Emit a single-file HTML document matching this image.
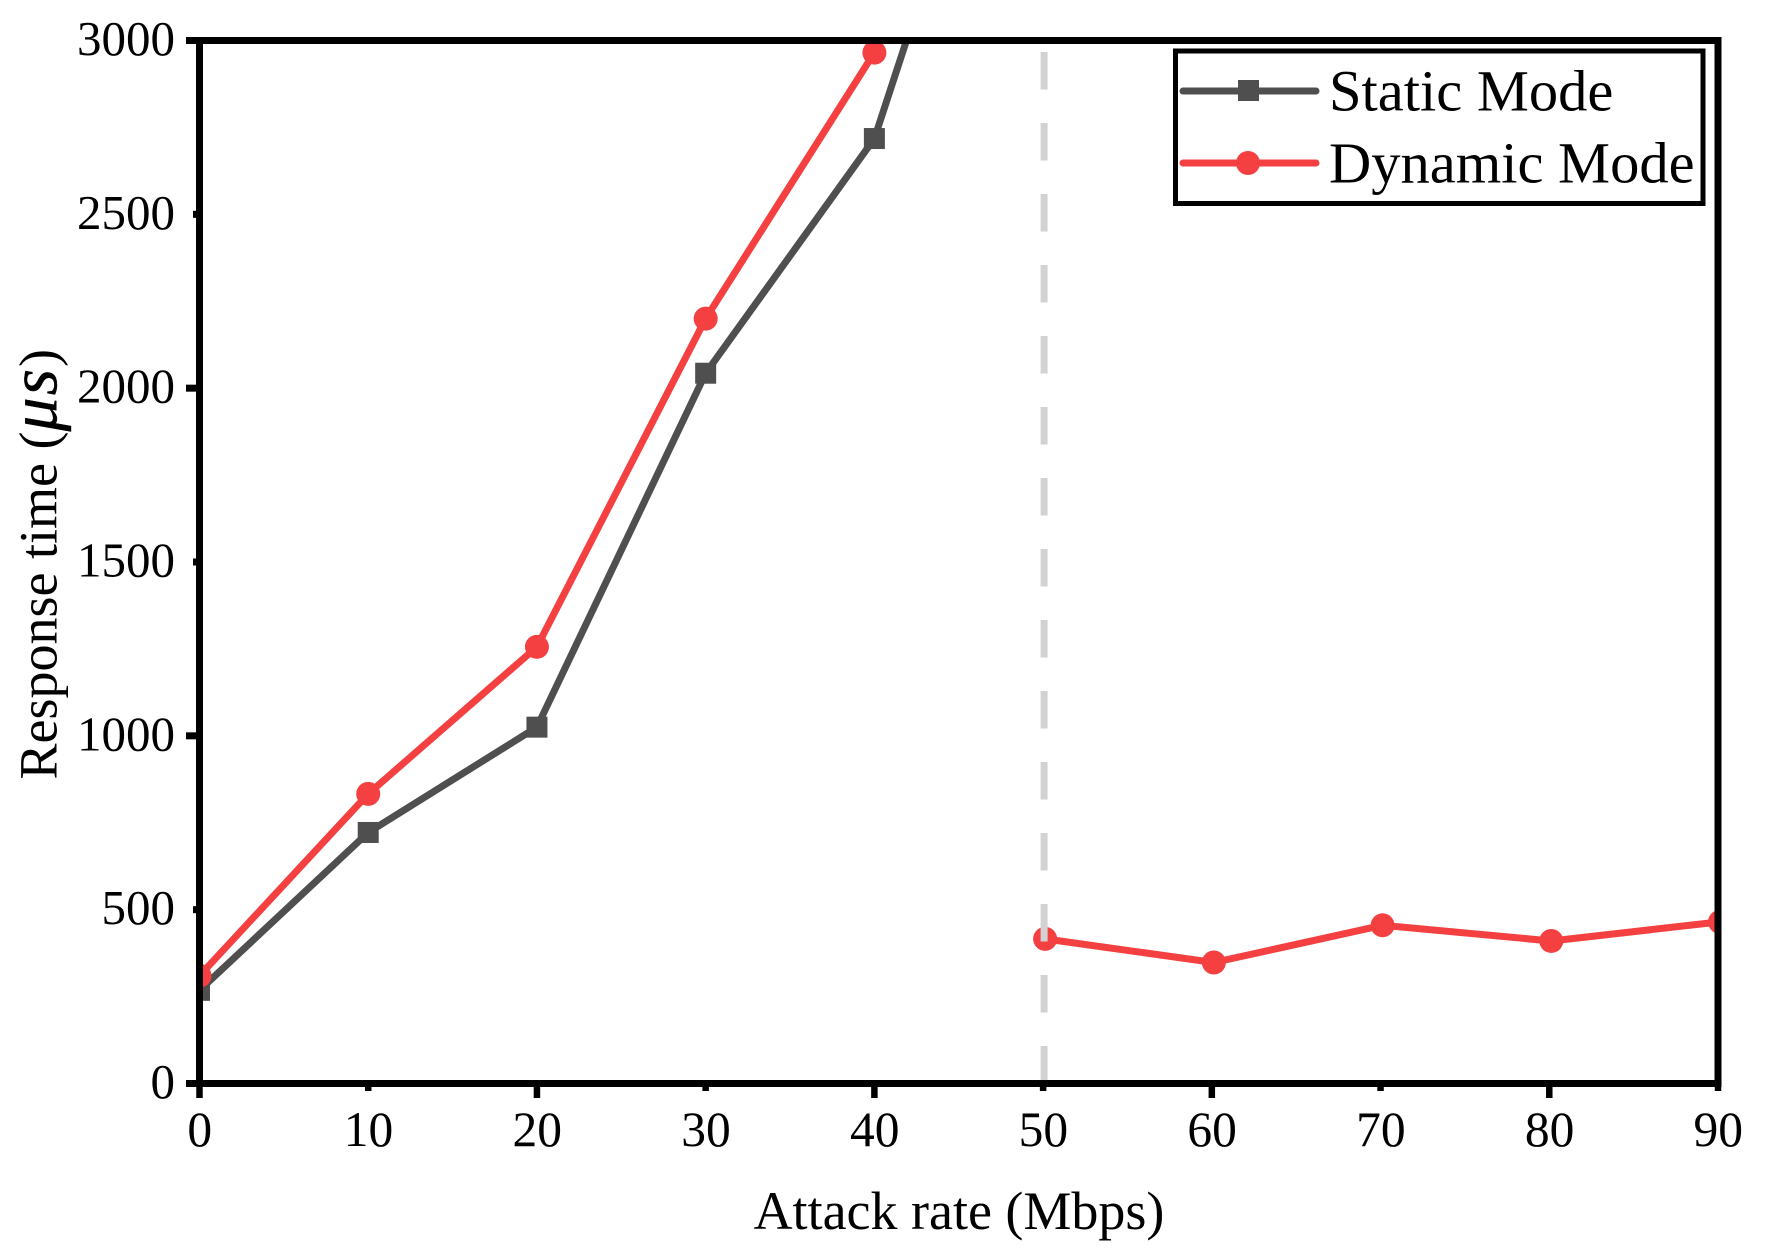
<!DOCTYPE html>
<html lang="en">
<head>
<meta charset="utf-8">
<title>Response time vs attack rate</title>
<style>
  html, body { margin: 0; padding: 0; background: #fff; width: 1774px; height: 1251px; overflow: hidden; }
  svg { display: block; }
  text { font-family: "Liberation Serif", "Noto Serif CJK SC", serif; fill: #000; }
</style>
</head>
<body>
<svg id="chart" xmlns="http://www.w3.org/2000/svg" width="1774" height="1251" viewBox="0 0 1774 1251">
  <defs>
    <clipPath id="plot-clip"><rect x="199.5" y="40.5" width="1518.5" height="1043"></rect></clipPath>
  </defs>
  <g id="series-layer" clip-path="url(#plot-clip)"></g>
  <g id="axis-layer"></g>
  <text x="959" y="1229" font-size="54" text-anchor="middle">Attack rate (Mbps)</text>
  <text transform="translate(56.5 779.5) rotate(-90)" font-size="54">Response time (<tspan font-style="italic" font-size="68" letter-spacing="2" stroke="#000" stroke-width="0.4">μs</tspan>)</text>
  <g>
    <rect x="1175.5" y="51" width="527.5" height="152.5" fill="#fff" stroke="#000" stroke-width="5"></rect>
    <g>
      <line x1="1183" y1="91" x2="1316" y2="91" stroke="#4f4f4f" stroke-width="7" stroke-linecap="round"></line>
      <rect x="1238" y="80" width="21" height="21" fill="#4f4f4f"></rect>
      <text x="1329" y="110.5" font-size="58.5">Static Mode</text>
    </g>
    <g>
      <line x1="1183" y1="163" x2="1316" y2="163" stroke="#f44040" stroke-width="7" stroke-linecap="round"></line>
      <circle cx="1248" cy="163" r="12" fill="#f44040"></circle>
      <text x="1329" y="182.5" font-size="58.5">Dynamic Mode</text>
    </g>
  </g>
</svg>
<script>
var categories = [0, 10, 20, 30, 40, 50, 60, 70, 80, 90];
var staticValues = [268, 722, 1025, 2043, 2718, 4200, null, null, null, null];
var dynamicValues = [310, 833, 1256, 2200, 2965, 416, 348, 455, 410, 465];
var dynamicSegmentBreakAfter = [40];
var xTickLabels = ['0', '10', '20', '30', '40', '50', '60', '70', '80', '90'];
var yTickValues = [0, 500, 1000, 1500, 2000, 2500, 3000];
var thresholdRate = [50];

var NS = 'http://www.w3.org/2000/svg';
var xMin = 0, xMax = 90, yMin = 0, yMax = 3000;
var left = 199.5, right = 1718, top_ = 40.5, bottom = 1083.5;
var GRAY = '#4f4f4f', RED = '#f44040';

function xScale(v) { return left + (v - xMin) / (xMax - xMin) * (right - left); }
function yScale(v) { return bottom - (v - yMin) / (yMax - yMin) * (bottom - top_); }
function make(tag, attrs, parent) {
  var el = document.createElementNS(NS, tag);
  for (var k in attrs) el.setAttribute(k, attrs[k]);
  parent.appendChild(el);
  return el;
}

var seriesLayer = document.getElementById('series-layer');
var axisLayer = document.getElementById('axis-layer');

function drawLine(points, color, name, shift) {
  var d = points.map(function (p) { return (xScale(p[0]) + shift).toFixed(2) + ',' + yScale(p[1]).toFixed(2); }).join(' ');
  var line = make('polyline', { points: d, fill: 'none', stroke: color, 'stroke-width': 7, 'stroke-linejoin': 'round' }, seriesLayer);
  
  
}

// Static series
var staticPoints = [];
categories.forEach(function (c, i) {
  if (staticValues[i] !== null) staticPoints.push([c, staticValues[i]]);
});
drawLine(staticPoints, GRAY, 'static-mode-line', 0);
staticPoints.forEach(function (p) {
  var m = make('rect', { x: xScale(p[0]) - 10.5, y: yScale(p[1]) - 10.5, width: 21, height: 21, fill: GRAY }, seriesLayer);
  
  
});

// Dynamic series (two separate runs around the threshold)
var dynamicRuns = [[], []];
categories.forEach(function (c, i) {
  if (dynamicValues[i] === null) return;
  dynamicRuns[c <= dynamicSegmentBreakAfter[0] ? 0 : 1].push([c, dynamicValues[i]]);
});
dynamicRuns.forEach(function (run, r) {
  var shift = r ? 2 : 0;
  drawLine(run, RED, 'dynamic-mode-line-' + (r + 1), shift);
  run.forEach(function (p) {
    var m = make('circle', { cx: xScale(p[0]) + shift, cy: yScale(p[1]), r: 12, fill: RED }, seriesLayer);
    
    
  });
});

// Threshold marker
var thresholdLine = make('line', { x1: xScale(thresholdRate[0]) + 1, x2: xScale(thresholdRate[0]) + 1, y1: 52, y2: bottom, stroke: '#d2d2d2', 'stroke-width': 7, 'stroke-dasharray': '37.5 33.5' }, seriesLayer);



// Axis frame
var frame = make('rect', { x: left, y: top_, width: right - left, height: bottom - top_, fill: 'none', stroke: '#000', 'stroke-width': 7 }, axisLayer);



// X ticks: alternating long / short
categories.forEach(function (c, i) {
  var x = xScale(c);
  var len = i % 2 === 0 ? 14.5 : 7.5;
  var tick = make('line', { x1: x, x2: x, y1: bottom, y2: bottom + len, stroke: '#000', 'stroke-width': 6.5 }, axisLayer);
  
  
  var label = make('text', { x: x + 0.3, y: 1146, 'font-size': 49.5, 'text-anchor': 'middle' }, axisLayer);
  label.textContent = xTickLabels[i];
  
  
});

// Y ticks: alternating long / short
yTickValues.forEach(function (v, i) {
  var y = yScale(v);
  var len = i % 2 === 0 ? 13.5 : 6.5;
  var tick = make('line', { x1: left - len, x2: left, y1: y, y2: y, stroke: '#000', 'stroke-width': 7 }, axisLayer);
  
  
  var label = make('text', { x: 175, y: y + 14.5, 'font-size': 49, 'text-anchor': 'end' }, axisLayer);
  label.textContent = String(v);
  
  
});
</script>
</body>
</html>
